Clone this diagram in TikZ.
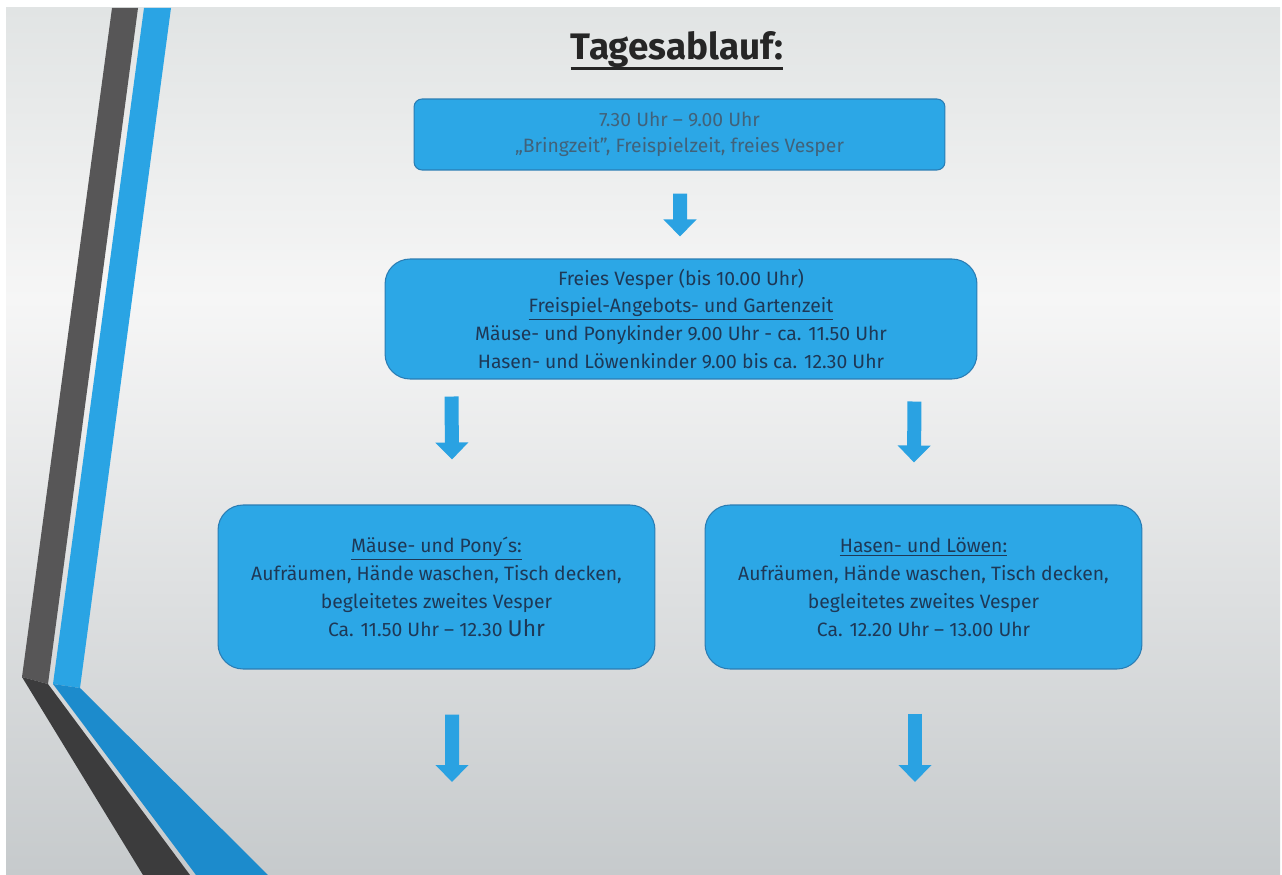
\documentclass[tikz,border=0pt]{standalone}
\usepackage{fontspec}
\setmainfont{Fira Sans}
\usetikzlibrary{calc,arrows.meta}
\definecolor{boxblue}{HTML}{2CA7E6}
\definecolor{boxedge}{HTML}{2A7DB4}
\definecolor{arrowblue}{HTML}{2AA2E2}
\definecolor{navytext}{HTML}{1E3856}
\definecolor{greytext}{HTML}{41627A}
\definecolor{stripedark}{HTML}{575657}
\definecolor{stripedarklow}{HTML}{3C3C3D}
\definecolor{stripeblue}{HTML}{2AA4E4}
\definecolor{stripebluelow}{HTML}{1C8BCC}
\definecolor{bgtop}{HTML}{E1E4E4}
\definecolor{bgmid}{HTML}{F6F6F6}
\definecolor{bgbottom}{HTML}{C6CACC}
\begin{document}
\begin{tikzpicture}[x=0.02cm, y=-0.02cm]
        \tikzstyle{stepbox}=[draw=boxedge, line width=0.6pt, fill=boxblue, text=navytext, align=center, font=\fontsize{11}{15.9}\selectfont]
        \tikzstyle{flowarrow}=[draw=arrowblue, line width=0.28cm, -{Triangle[length=0.34cm, width=0.64cm]}]
        \useasboundingbox (0,0) rectangle (1282,875);
        % background
        \fill[white] (0,0) rectangle (1282,875);
        \shade[top color=bgtop, bottom color=bgmid] (6,8) rectangle (1280,300);
        \shade[top color=bgmid, bottom color=bgbottom] (6,299) rectangle (1280,875);
        \fill[stripedark] (112,8) -- (138,8) -- (48,684) -- (22,677) -- cycle;
        \fill[stripeblue] (144,8) -- (171,8) -- (80,688) -- (53,684) -- cycle;
        \fill[stripedarklow] (22,677) -- (48,684) -- (190,875) -- (143,875) -- cycle;
        \fill[stripebluelow] (53,684) -- (80,688) -- (268,875) -- (196,875) -- cycle;
        % title
        \node[font=\fontsize{21}{25}\selectfont\bfseries, text=black!85, inner sep=0pt] (title) at (677,50) {Tagesablauf:};
        \draw[black!85, line width=1.6pt] ($(title.base west)+(0,9)$) -- ($(title.base east)+(0,9)$);
        % boxes
        \node[stepbox, rounded corners=0.16cm, minimum width=10.62cm, minimum height=1.42cm, text=greytext, font=\fontsize{11}{14.8}\selectfont] (bring) at (679.5,134.5)
        {7.30 Uhr – 9.00 Uhr\\
        „Bringzeit", Freispielzeit, freies Vesper};
        \node[stepbox, rounded corners=0.5cm, minimum width=11.84cm, minimum height=2.4cm] (frei) at (681,319)
        {Freies Vesper (bis 10.00 Uhr)\\
        \underline{Freispiel-Angebots- und Gartenzeit}\\
        Mäuse- und Ponykinder 9.00 Uhr - ca. 11.50 Uhr\\
        Hasen- und Löwenkinder 9.00 bis ca. 12.30 Uhr};
        \node[stepbox, rounded corners=0.5cm, minimum width=8.74cm, minimum height=3.28cm] (maeuse) at (436.5,587)
        {\underline{Mäuse- und Pony´s:}\\
        Aufräumen, Hände waschen, Tisch decken,\\
        begleitetes zweites Vesper\\
        Ca. 11.50 Uhr – 12.30 {\fontsize{13}{15.9}\selectfont Uhr}};
        \node[stepbox, rounded corners=0.5cm, minimum width=8.74cm, minimum height=3.28cm] (hasen) at (923.5,587)
        {\underline{Hasen- und Löwen:}\\
        Aufräumen, Hände waschen, Tisch decken,\\
        begleitetes zweites Vesper\\
        Ca. 12.20 Uhr – 13.00 Uhr};
        % arrows
        \coordinate (endmaeuse) at (452,782);
        \coordinate (endhasen) at (915,782);
        \draw[flowarrow] ($(bring.south)+(0.5,23)$) -- ($(frei.north)+(-1,-22)$);
        \draw[flowarrow] ($(frei.south west)+(67,17)$) -- ($(maeuse.north)+(15.5,-45)$);
        \draw[flowarrow] ($(frei.south east)+(-63,22)$) -- ($(hasen.north)+(-9.5,-42)$);
        \draw[flowarrow] ($(maeuse.south)+(15.5,45)$) -- (endmaeuse);
        \draw[flowarrow] ($(hasen.south)+(-8.5,44)$) -- (endhasen);
\end{tikzpicture}
\end{document}
